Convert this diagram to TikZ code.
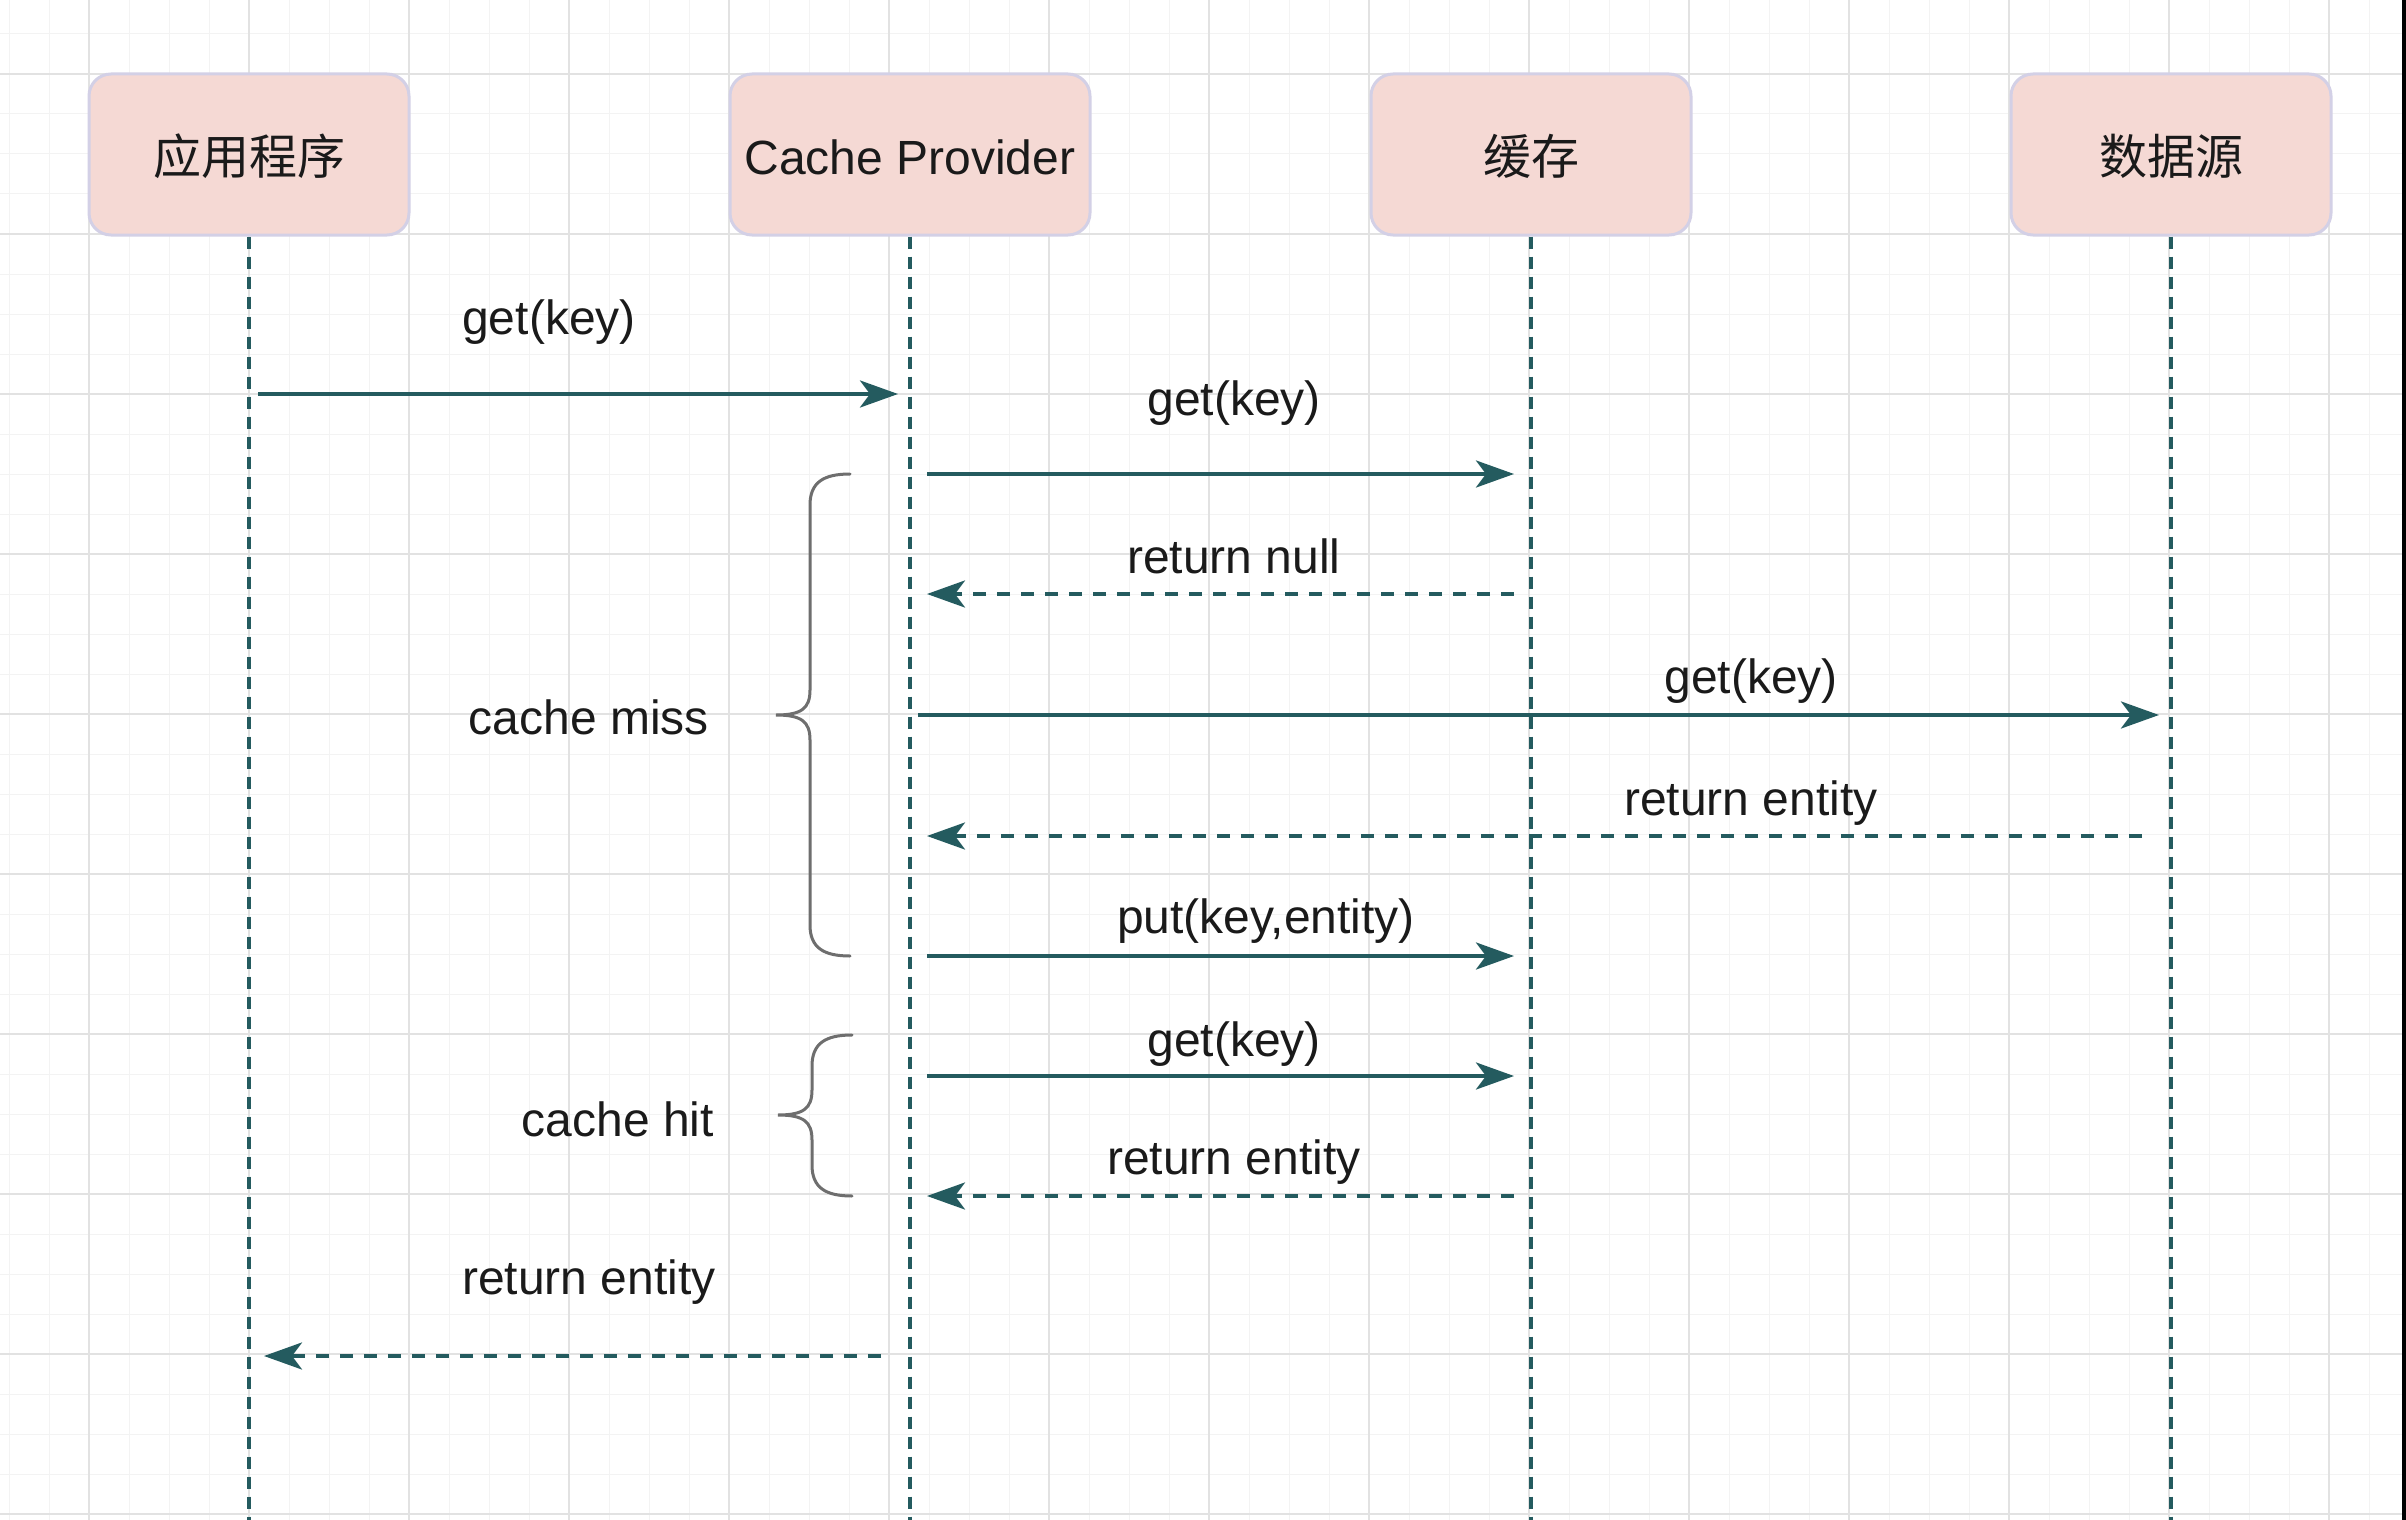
\documentclass[tikz,border=0pt]{standalone}
\usepackage{fontspec}
\setmainfont{Liberation Sans}
\newfontfamily\cjk{Noto Sans CJK SC}
\usetikzlibrary{arrows.meta}
\definecolor{teal1}{HTML}{245B5F}
\definecolor{boxfill}{HTML}{F5D9D4}
\definecolor{boxline}{HTML}{D3D0E6}
\definecolor{minorgrid}{HTML}{F3F3F3}
\definecolor{majorgrid}{HTML}{E2E2E2}
\definecolor{bracegray}{HTML}{6E6E6E}
\definecolor{txt}{HTML}{1A1A1A}
\begin{document}
\begin{tikzpicture}[x=0.5pt,y=-0.5pt,
  actor/.style={draw=boxline,line width=1.5pt,fill=boxfill,rounded corners=11pt,
    minimum height=80.5pt,inner sep=0pt,text height=20pt,text depth=0pt,
    text=txt,font=\fontsize{24}{28}\selectfont},
  lifeline/.style={draw=teal1,line width=1.8pt,dash pattern=on 6pt off 4pt},
  msg/.style={draw=teal1,line width=2pt,-{Stealth[length=19pt,width=13.5pt,inset=5pt]},line cap=butt},
  reply/.style={msg,dash pattern=on 6.5pt off 5.5pt},
  lbl/.style={anchor=base,inner sep=0pt,text=txt,font=\fontsize{24}{28}\selectfont},
  brace/.style={draw=bracegray,line width=1.5pt,line cap=round}]
\useasboundingbox (0,0) rectangle (2406,1520);
\fill[white] (0,0) rectangle (2406,1520);
% grid
\foreach \gx in {9,49,...,2400} \draw[minorgrid,line width=0.5pt] (\gx,0) -- (\gx,1520);
\foreach \gy in {34,74,...,1520} \draw[minorgrid,line width=0.5pt] (0,\gy) -- (2406,\gy);
\foreach \gx in {89,249,...,2400} \draw[majorgrid,line width=1pt] (\gx,0) -- (\gx,1520);
\foreach \gy in {74,234,...,1520} \draw[majorgrid,line width=1pt] (0,\gy) -- (2406,\gy);
\fill[black] (2402,0) rectangle (2406,1520);
% actors
\node[actor,minimum width=160pt] (app) at (249,154.5) {\cjk 应用程序};
\node[actor,minimum width=180pt] (cp) at (910,154.5) {Cache Provider};
\node[actor,minimum width=160pt] (cache) at (1531,154.5) {\cjk 缓存};
\node[actor,minimum width=160pt] (ds) at (2171,154.5) {\cjk 数据源};
\coordinate (bot) at (0,1520);
\draw[lifeline] (app.south) -- (app.south |- bot);
\draw[lifeline] (cp.south) -- (cp.south |- bot);
\draw[lifeline] (cache.south) -- (cache.south |- bot);
\draw[lifeline] (ds.south) -- (ds.south |- bot);
% message endpoints
\coordinate (m1s) at (258,394);  \coordinate (m1e) at (898,394);
\coordinate (m2s) at (927,474);  \coordinate (m2e) at (1514,474);
\coordinate (m3s) at (1514,594); \coordinate (m3e) at (927,594);
\coordinate (m4s) at (918,715);  \coordinate (m4e) at (2159,715);
\coordinate (m5s) at (2142,836); \coordinate (m5e) at (927,836);
\coordinate (m6s) at (927,956);  \coordinate (m6e) at (1514,956);
\coordinate (m7s) at (927,1076); \coordinate (m7e) at (1514,1076);
\coordinate (m8s) at (1514,1196);\coordinate (m8e) at (927,1196);
\coordinate (m9s) at (881,1356); \coordinate (m9e) at (264,1356);
\draw[msg] (m1s) -- (m1e);
\draw[msg] (m2s) -- (m2e);
\draw[reply] (m3s) -- (m3e);
\draw[msg] (m4s) -- (m4e);
\draw[reply] (m5s) -- (m5e);
\draw[msg] (m6s) -- (m6e);
\draw[msg] (m7s) -- (m7e);
\draw[reply] (m8s) -- (m8e);
\draw[reply] (m9s) -- (m9e);
% labels
\node[lbl] (l1) at (549,334) {get(key)};
\node[lbl] (l2) at (1234,415) {get(key)};
\node[lbl] (l3) at (1234,573) {return null};
\node[lbl] (l4) at (1751,693) {get(key)};
\node[lbl] (l5) at (1751,815) {return entity};
\node[lbl] (l6) at (1266,933) {put(key,entity)};
\node[lbl] (l7) at (1234,1056) {get(key)};
\node[lbl] (l8) at (1234,1174) {return entity};
\node[lbl] (l9) at (589,1294) {return entity};
\node[lbl] (miss) at (589,734) {cache miss};
\node[lbl] (hit) at (618,1136) {cache hit};
% braces
\draw[brace] (850,474) .. controls (824,474) and (810,482) .. (810,505) -- (810,690)
  .. controls (810,708) and (802,715) .. (776,715)
  .. controls (802,715) and (810,722) .. (810,740) -- (810,925)
  .. controls (810,948) and (824,956) .. (850,956);
\draw[brace] (852,1035) .. controls (826,1035) and (812,1043) .. (812,1066) -- (812,1090)
  .. controls (812,1108) and (804,1115) .. (778,1115)
  .. controls (804,1115) and (812,1122) .. (812,1140) -- (812,1165)
  .. controls (812,1188) and (826,1196) .. (852,1196);
\end{tikzpicture}
\end{document}
